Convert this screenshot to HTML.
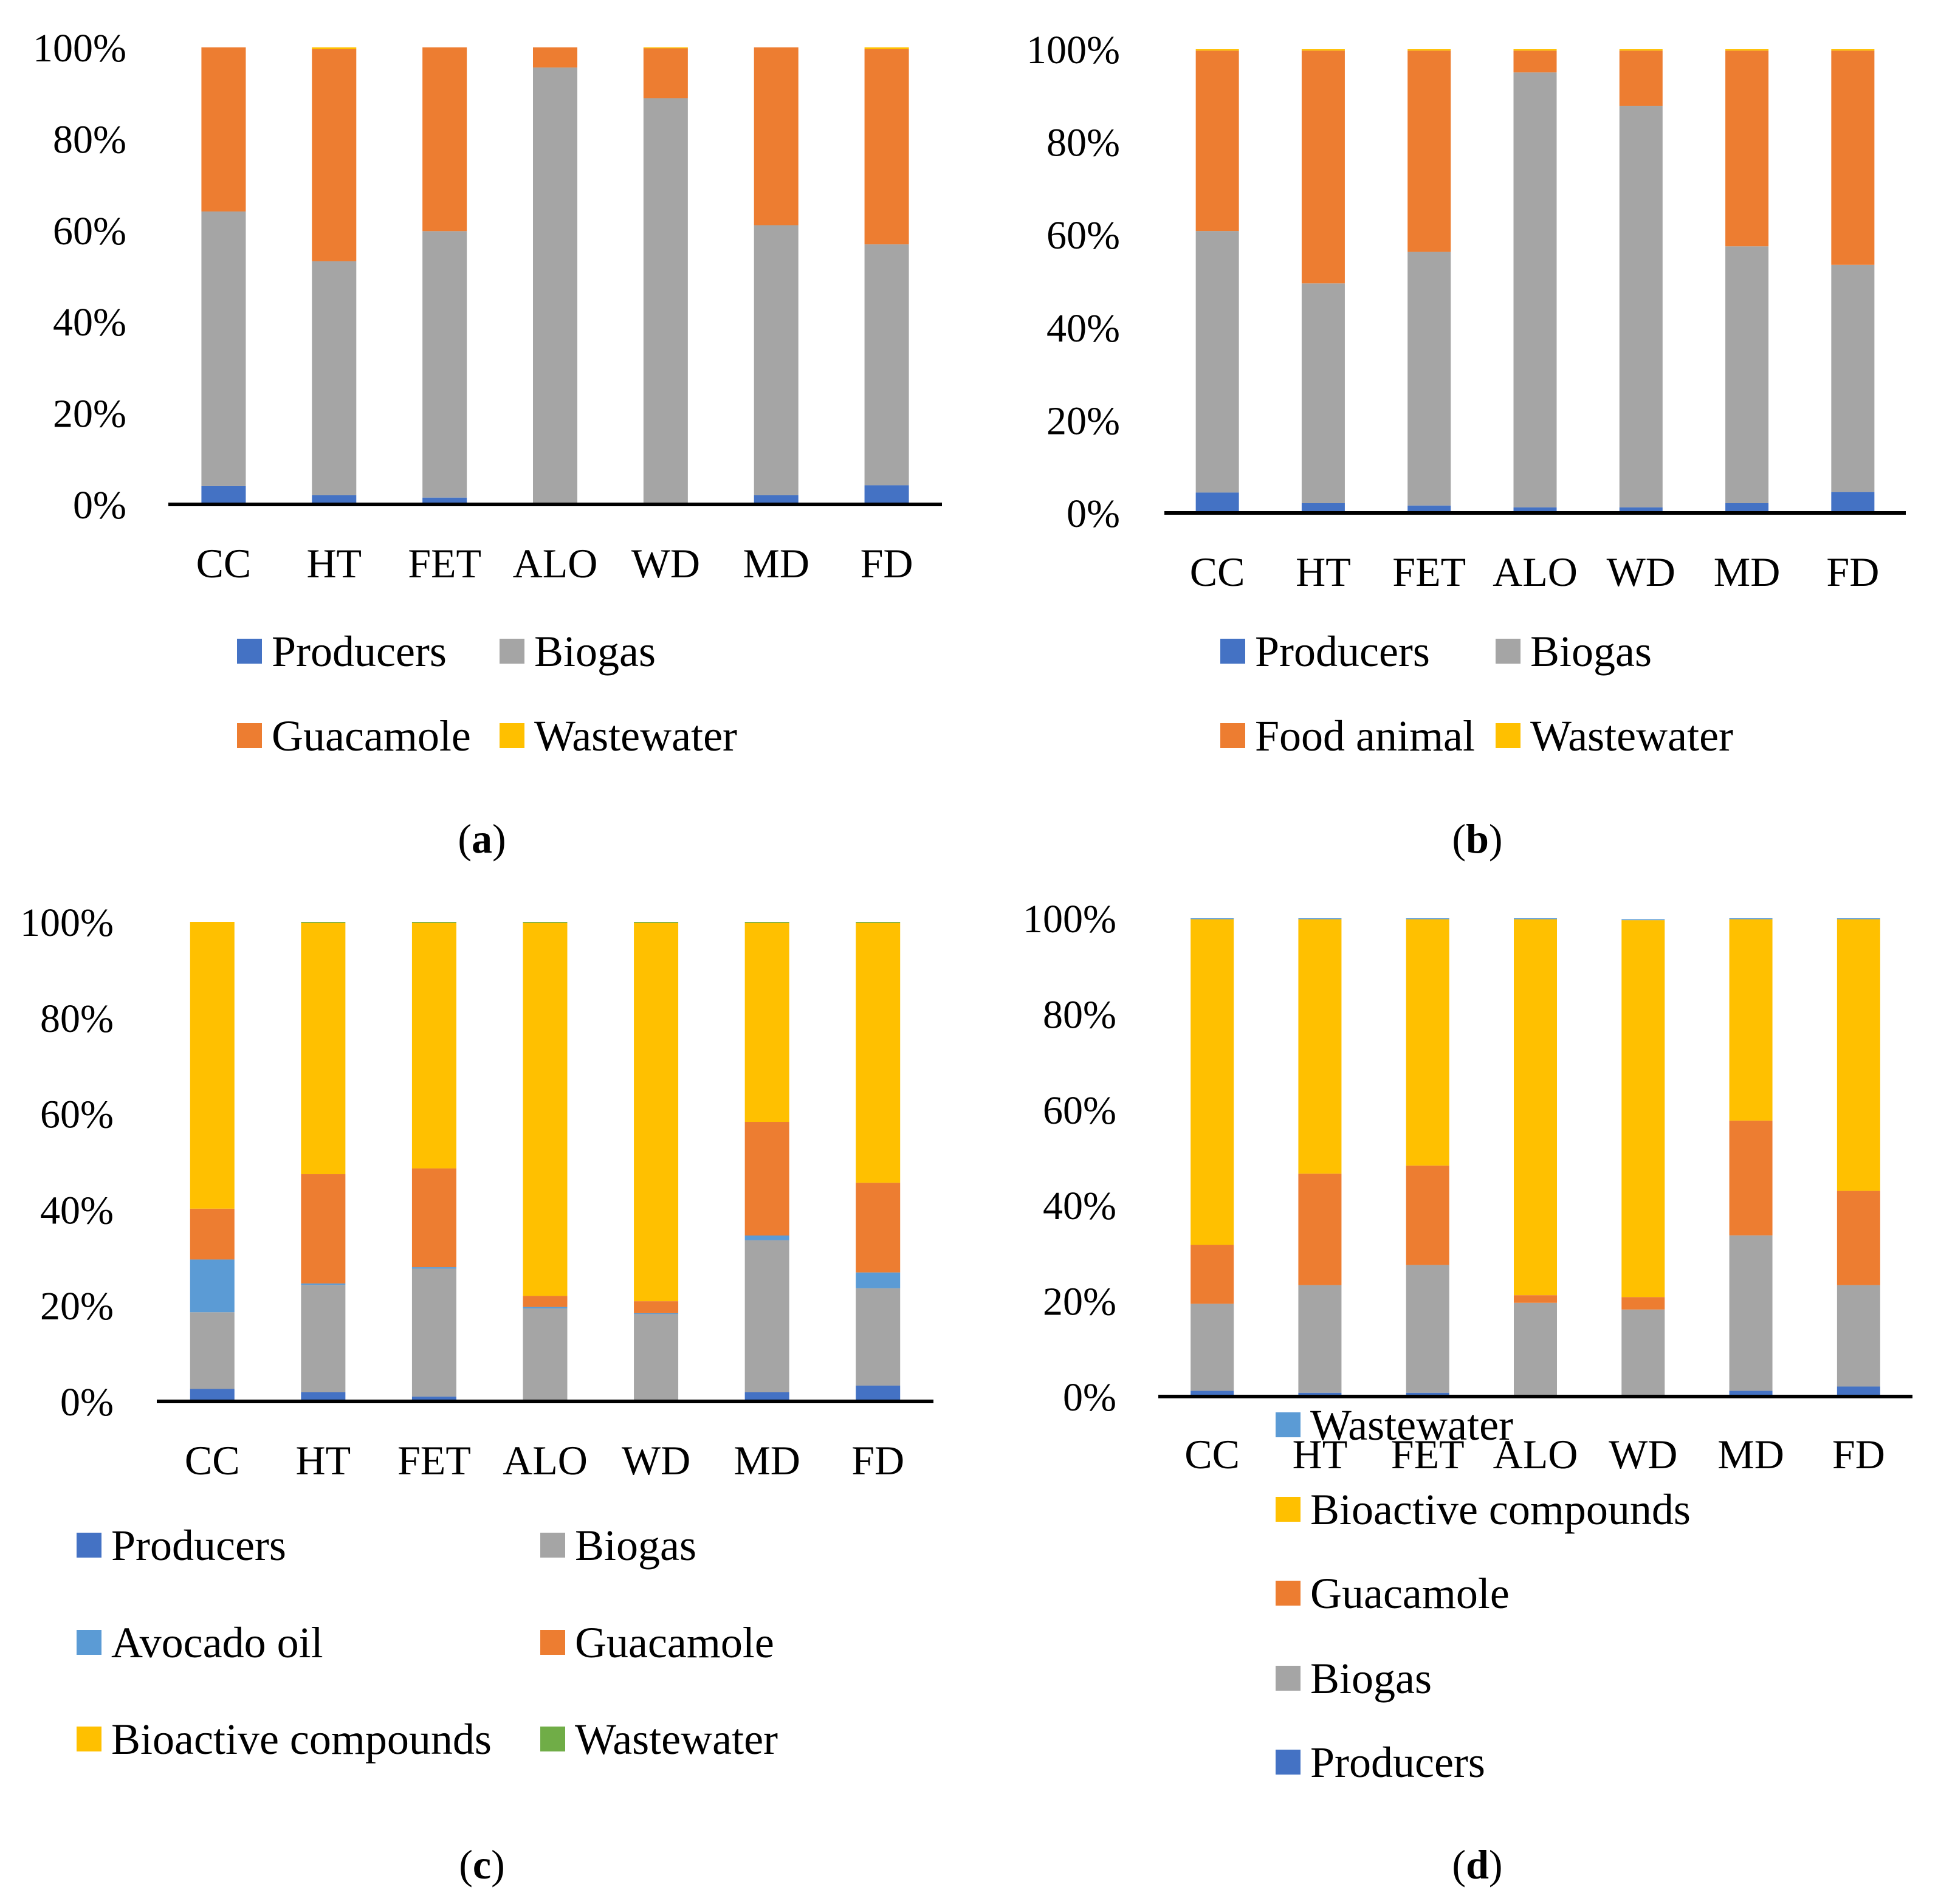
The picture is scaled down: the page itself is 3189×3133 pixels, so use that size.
<!DOCTYPE html>
<html><head><meta charset="utf-8"><style>
html,body{margin:0;padding:0;background:#fff}
svg{display:block}
text{font-family:"Liberation Serif",serif;fill:#000}
</style></head><body>
<svg id="chart" width="3189" height="3133" viewBox="0 0 3189 3133" xmlns="http://www.w3.org/2000/svg"></svg>
<script>
const categories = ["CC","HT","FET","ALO","WD","MD","FD"];
const tickLabels = ["0%","20%","40%","60%","80%","100%"];
const tickValues = [0,20,40,60,80,100];

// Panel (a): producers, biogas, guacamole, wastewater
const aProducers = [4.0,2.0,1.5,0,0,2.0,4.2];
const aBiogas = [60.1,51.2,58.3,95.6,88.9,59.1,52.7];
const aGuacamole = [35.9,46.4,40.2,4.4,10.9,38.9,42.7];
const aWastewater = [0,0.4,0,0,0.2,0,0.4];

// Panel (b): producers, biogas, food animal, wastewater
const bProducers = [4.4,2.1,1.6,1.2,1.2,2.1,4.5];
const bBiogas = [56.4,47.4,54.7,93.8,86.6,55.4,49.0];
const bFoodAnimal = [38.9,50.2,43.4,4.7,11.9,42.2,46.2];
const bWastewater = [0.3,0.3,0.3,0.3,0.3,0.3,0.3];

// Panel (c): producers, biogas, avocado oil, guacamole, bioactive, wastewater
const cProducers = [2.6,1.9,1.0,0,0,1.9,3.3];
const cBiogas = [16.0,22.4,26.7,19.4,18.2,31.7,20.3];
const cAvocadoOil = [11.0,0.3,0.3,0.3,0.2,1.0,3.3];
const cGuacamole = [10.6,22.8,20.6,2.3,2.5,23.7,18.7];
const cBioactive = [59.8,52.4,51.2,77.8,78.9,41.5,54.2];
const cWastewater = [0,0.2,0.2,0.2,0.2,0.2,0.2];

// Panel (d): producers, biogas, guacamole, bioactive, wastewater
const dProducers = [1.2,0.8,0.8,0.2,0,1.2,2.1];
const dBiogas = [18.2,22.5,26.7,19.4,18.2,32.5,21.2];
const dGuacamole = [12.3,23.3,20.8,1.6,2.6,24.0,19.7];
const dBioactive = [68.1,53.2,51.5,78.6,78.8,42.1,56.8];
const dWastewater = [0.2,0.2,0.2,0.2,0.2,0.2,0.2];

const C = {blue:"#4472C4",gray:"#A5A5A5",orange:"#ED7D31",yellow:"#FFC000",lblue:"#5B9BD5",green:"#70AD47"};
const NS = "http://www.w3.org/2000/svg";
const svg = document.getElementById("chart");

function mk(tag, attrs, parent){
  const e = document.createElementNS(NS, tag);
  for (const k in attrs) e.setAttribute(k, attrs[k]);
  parent.appendChild(e);
  return e;
}

function drawPanel(p){
  const g = mk("g", {}, svg);
  
  
  const yScale = v => p.y0 - (v/100)*(p.y0 - p.y100);
  const step = (p.x1 - p.x0)/categories.length;
  const xCenter = i => p.x0 + step*(i+0.5);
  tickValues.forEach((tv, i) => {
    const t = mk("text", {x:p.tickRight, y:yScale(tv)+23, "font-size":66, "text-anchor":"end"}, g);
    t.textContent = tickLabels[i];
    
    
  });
  categories.forEach((cat, i) => {
    let cum = 0;
    p.series.forEach(s => {
      const v = s.values[i];
      if (v <= 0) return;
      const yTop = yScale(cum + v), yBot = yScale(cum);
      const r = mk("rect", {x:xCenter(i)-p.bw/2, y:yTop, width:p.bw, height:Math.max(yBot-yTop,0), fill:s.color}, g);
      
      
      cum += v;
    });
    const t = mk("text", {x:xCenter(i), y:p.catY+24, "font-size":68, "text-anchor":"middle"}, g);
    t.textContent = cat;
    
    
  });
  const ax = mk("line", {x1:p.x0, x2:p.x1, y1:p.y0, y2:p.y0, stroke:"#000", "stroke-width":6}, g);
  
  
  p.legend.forEach(l => {
    const lg = mk("g", {}, g);
    
    
    mk("rect", {x:l.x, y:l.y-21, width:41, height:41, fill:l.color}, lg);
    const t = mk("text", {x:l.x+57, y:l.y+24, "font-size":72}, lg);
    t.textContent = l.label;
  });
  const pl = mk("text", {x:p.labelX, y:p.labelY+24, "font-size":68, "text-anchor":"middle"}, g);
  
  
  const t1 = mk("tspan", {}, pl); t1.textContent = "(";
  const t2 = mk("tspan", {"font-weight":"bold"}, pl); t2.textContent = p.letter;
  const t3 = mk("tspan", {}, pl); t3.textContent = ")";
}

drawPanel({id:"panel-a", letter:"a", x0:277, x1:1550, y0:830, y100:78, bw:73, tickRight:208, catY:926, labelX:793, labelY:1379,
  series:[{key:"producers",values:aProducers,color:C.blue},{key:"biogas",values:aBiogas,color:C.gray},{key:"guacamole",values:aGuacamole,color:C.orange},{key:"wastewater",values:aWastewater,color:C.yellow}],
  legend:[{key:"producers",label:"Producers",color:C.blue,x:390,y:1072},{key:"biogas",label:"Biogas",color:C.gray,x:822,y:1072},
          {key:"guacamole",label:"Guacamole",color:C.orange,x:390,y:1211},{key:"wastewater",label:"Wastewater",color:C.yellow,x:822,y:1211}]});

drawPanel({id:"panel-b", letter:"b", x0:1916, x1:3136, y0:844, y100:81, bw:71, tickRight:1843, catY:940, labelX:2431, labelY:1379,
  series:[{key:"producers",values:bProducers,color:C.blue},{key:"biogas",values:bBiogas,color:C.gray},{key:"food-animal",values:bFoodAnimal,color:C.orange},{key:"wastewater",values:bWastewater,color:C.yellow}],
  legend:[{key:"producers",label:"Producers",color:C.blue,x:2008,y:1072},{key:"biogas",label:"Biogas",color:C.gray,x:2461,y:1072},
          {key:"food-animal",label:"Food animal",color:C.orange,x:2008,y:1211},{key:"wastewater",label:"Wastewater",color:C.yellow,x:2461,y:1211}]});

drawPanel({id:"panel-c", letter:"c", x0:258, x1:1536, y0:2306, y100:1517, bw:73, tickRight:187, catY:2402, labelX:793, labelY:3067,
  series:[{key:"producers",values:cProducers,color:C.blue},{key:"biogas",values:cBiogas,color:C.gray},{key:"avocado-oil",values:cAvocadoOil,color:C.lblue},{key:"guacamole",values:cGuacamole,color:C.orange},{key:"bioactive",values:cBioactive,color:C.yellow},{key:"wastewater",values:cWastewater,color:C.green}],
  legend:[{key:"producers",label:"Producers",color:C.blue,x:126,y:2543},{key:"biogas",label:"Biogas",color:C.gray,x:889,y:2543},
          {key:"avocado-oil",label:"Avocado oil",color:C.lblue,x:126,y:2703},{key:"guacamole",label:"Guacamole",color:C.orange,x:889,y:2703},
          {key:"bioactive",label:"Bioactive compounds",color:C.yellow,x:126,y:2862},{key:"wastewater",label:"Wastewater",color:C.green,x:889,y:2862}]});

drawPanel({id:"panel-d", letter:"d", x0:1906, x1:3147, y0:2298, y100:1511, bw:71, tickRight:1837, catY:2392, labelX:2431, labelY:3067,
  series:[{key:"producers",values:dProducers,color:C.blue},{key:"biogas",values:dBiogas,color:C.gray},{key:"guacamole",values:dGuacamole,color:C.orange},{key:"bioactive",values:dBioactive,color:C.yellow},{key:"wastewater",values:dWastewater,color:C.lblue}],
  legend:[{key:"wastewater",label:"Wastewater",color:C.lblue,x:2099,y:2345},{key:"bioactive",label:"Bioactive compounds",color:C.yellow,x:2099,y:2484},
          {key:"guacamole",label:"Guacamole",color:C.orange,x:2099,y:2622},{key:"biogas",label:"Biogas",color:C.gray,x:2099,y:2762},
          {key:"producers",label:"Producers",color:C.blue,x:2099,y:2900}]});
</script>
</body></html>
